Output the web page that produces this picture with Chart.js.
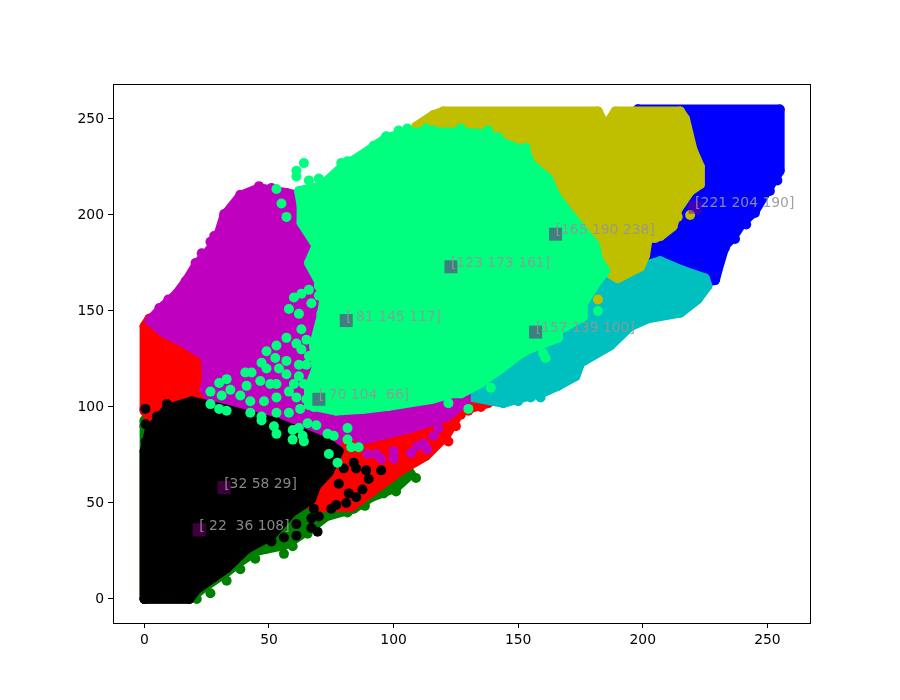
<!DOCTYPE html>
<html><head><meta charset="utf-8">
<style>html,body{margin:0;padding:0;background:#fff}canvas{display:block}</style>
<script src="https://cdn.jsdelivr.net/npm/chart.js@4"></script>
</head><body><canvas id="c" width="900" height="700"></canvas>
<script>
// Cluster outlines and loose points as [x, y]
const blueEdge=[[198,255],[255,255],[255,223],[251,215],[245,202],[240,196],[236,188],[233,184],[230,171],[229,166],[200,160],[185,190],[185,235]];
const blueDots=[[254,218],[251,212.5],[245,201],[241.5,195],[237,187.5],[233,183],[229,168]];
const greenEdge=[[0,0],[18,0],[21,3],[25,7],[33,14],[38,19],[45,25],[56,28],[60,31],[67,37],[73,43],[84,47],[91,53],[101,58],[107,65],[105,69],[63,77],[0,93]];
const greenDots=[[56,23.5],[0,99],[0,90],[21,0],[26.5,3],[33,9.5],[38.5,15.5],[44.5,21],[48.5,26],[59.5,27.5],[65.5,34],[81.5,45],[88.5,48.5],[96,55],[101,56],[109,63]];
const redEdge=[[2,146],[63,155],[135,129],[138,102],[127,98],[121,85],[113,74.5],[103,67],[83,48],[71,48],[22,60],[0,98],[0,142]];
const redDots=[[127,96],[135,100],[122,82],[125,90],[130,98]];
const cyanEdge=[[144,102],[155,106],[159,107],[166,111],[173,116],[175,123],[187,132],[195,142],[202,146],[215,149],[222,156],[226,163],[225,167],[216,171],[207,176],[199,173],[183,166],[143,140],[135,108],[132,105]];
const cyanDots=[[122,96],[155,105],[159,105],[150,103]];
const magentaEdge=[[2,145],[8,153],[13,159],[17,166],[21,174.5],[25,180],[28,185],[30,191],[32,199.5],[38.5,210],[46,214],[57,211.5],[71,207],[130,150],[129,103],[121.5,95],[105.5,88.5],[88,83],[78,88.5],[77,80],[42,100],[26,105],[24,109],[25,115],[24.5,126.5],[20,130],[15,134],[8,138.5]];
const magentaDots=[[6,151.5],[9.6,156],[16.5,165.5],[20.5,175],[23,180],[26.5,186],[28,189],[31,193],[32,200.5],[34.5,203],[38.5,210.5],[43,209],[46,215],[51,214],[89.5,75.5],[93,75.5],[95,73],[100,77],[100,73],[107,76],[109.5,79.5],[112,81],[113.5,78],[116,85],[118,89]];
const yellowEdge=[[116,252],[120,254],[182,254],[185,246],[189,254],[215,254],[217,250],[220,234],[223,225],[223,216],[219,212.5],[214,203],[212,194],[207,189],[202,187.5],[201,179],[199,173],[190,167],[185,171],[159,181],[103,207],[109,246]];
const yellowDots=[[219,200],[182,156],[161,134],[70.5,141],[214,199],[209,193],[205,188],[196,176],[194,170],[191,168]];
const blackEdge=[[0,0],[18,0],[21,5],[33,16],[41,26],[51,33],[59,45],[67,52],[69,59],[74,66],[78,77],[74,81],[53,92],[32,99],[19,103],[9,99],[5,93],[2,87.5],[0,77]];
const blackDots=[[0.4,99],[9,101.5],[5,95],[0.5,91],[0.5,82],[80,68],[85,68],[84,71],[89,67],[95,67],[90,62.5],[78,60],[82,55],[87.5,57],[85,53],[81,50],[77,49],[75,47],[68,47],[67,42],[70,43],[61,39],[67,37],[69.5,35],[61,33],[56,32],[51,30]];
const springEdge=[[97,240],[105.5,243],[113,243],[127,243],[138,242],[143,238],[153,233],[155,226.5],[162,219],[165,210],[170,201.5],[174,195],[181,184],[182,177],[185,171],[182,166],[179,160],[176,154],[176,147],[166,140],[166,136],[154,130],[150,127],[143,120],[135,112.5],[127,107],[123,107],[115,104],[98,100.5],[88,99],[77,98],[66,101],[66,110],[69,120],[68,132],[71,147],[72,155],[70,165.5],[66,175],[69,184],[63,196],[63,205],[62,212.5],[71,215],[79,224.5],[87,231]];
const springDots=[[53,213.5],[55,206],[57,199],[61,220],[66,218],[70,219],[60,157],[63,159],[67,154],[70,158],[70,163],[66,161],[58,151],[62,148.5],[71,148.5],[63,140.5],[57,136],[61,133],[53,132],[49,129],[52.5,125.5],[47,123],[49,120],[54,120],[57,124],[62,122],[66,126.5],[57,117],[40.5,118],[43,118],[33,114.5],[30,112.5],[26.5,108],[31,106],[34.5,109],[41,111],[38.5,106],[46.5,113.5],[50.5,112],[53,112],[60,112],[64,112],[42.5,103],[48,103],[53,105],[58,108],[26.5,101.5],[30,99],[33,98],[42.5,97],[47,95],[53,97],[58,97],[62.5,99],[47,93],[52,90],[53,86],[59.5,88],[62,89],[63.5,85],[64,82],[59.5,83],[65.5,91.5],[69,90.5],[73.5,86],[76,85],[81.5,83],[81.5,89],[83,79],[86,79],[74,75.5],[77.5,71],[182,150],[160,128],[161,125.5],[139,110],[130,99],[122,102],
 [105.5,245],[113,245],[116,244],[120,242],[127,245],[133,242],[138,244],[142,240.5],[153,235],[64,227],[61,223],[79,227],[81.5,228],[92,236],[97,241],[102,244],[63,130],[65,135],[65,122],[62,116],[67,110],[61,105],[65,104],[68,100]];

const centerX=[221,165,123,81,157,70,32,22];
const centerY=[204,190,173,145,139,104,58,36];
const centerLabels=['[221 204 190]','[165 190 238]','[123 173 161]','[ 81 145 117]','[157 139 100]','[ 70 104  66]','[32 58 29]','[ 22  36 108]'];
const tickValues=[0,50,100,150,200,250];

const clusters=[
 ['#0000ff',blueEdge,blueDots],['#008000',greenEdge,greenDots],['#ff0000',redEdge,redDots],
 ['#00bfbf',cyanEdge,cyanDots],['#bf00bf',magentaEdge,magentaDots],['#bfbf00',yellowEdge,yellowDots],
 ['#000000',blackEdge,blackDots],['#00ff7f',springEdge,springDots]];
const pts=a=>a.map(p=>({x:p[0],y:p[1]}));
const paintOrder=[];
clusters.forEach(([color,edge,dots])=>{
  paintOrder.push({data:pts(edge.concat([edge[0]])),showLine:true,fill:'shape',backgroundColor:color,borderColor:color,
    borderWidth:9.6,borderJoinStyle:'round',borderCapStyle:'round',pointRadius:4.8,pointBorderWidth:0,pointBackgroundColor:color});
  paintOrder.push({data:pts(dots),showLine:false,pointRadius:5,pointBorderWidth:0,pointBackgroundColor:color,backgroundColor:color,borderColor:color});
});
paintOrder.push({data:centerX.map((x,i)=>({x,y:centerY[i]})),showLine:false,pointStyle:'rect',pointRadius:9.2,pointBorderWidth:0,
  pointBackgroundColor:'rgba(128,0,128,0.5)',backgroundColor:'rgba(128,0,128,0.5)'});

const textPlugin={id:'centerText',afterDatasetsDraw(chart){
  const {ctx,scales:{x,y},chartArea:a}=chart;
  ctx.save();ctx.font='13.9px "DejaVu Sans"';ctx.textAlign='left';ctx.textBaseline='alphabetic';ctx.fillStyle='rgba(150,150,150,0.9)';
  centerLabels.forEach((t,i)=>ctx.fillText(t,x.getPixelForValue(centerX[i]),y.getPixelForValue(centerY[i])));
  ctx.restore();
  ctx.save();ctx.strokeStyle='#000';ctx.lineWidth=1;ctx.strokeRect(a.left+.5,a.top+.5,a.right-a.left,a.bottom-a.top);ctx.restore();
}};
const axis=(min,max)=>({type:'linear',min,max,
  grid:{drawOnChartArea:false,drawTicks:true,tickLength:5,tickColor:'#000'},border:{display:false},
  afterBuildTicks(s){s.ticks=tickValues.map(v=>({value:v}));},
  ticks:{color:'#000',font:{family:'"DejaVu Sans"',size:13.9},padding:4,autoSkip:false,maxRotation:0,includeBounds:false}});
const xAxis=axis(-12.6,267.1);xAxis.afterFit=s=>{s.height=77;};
const yAxis=axis(-12.5,268.2);yAxis.afterFit=s=>{s.width=113;};
new Chart(document.getElementById('c'),{type:'scatter',
  data:{datasets:paintOrder.reverse()},
  plugins:[textPlugin],
  options:{responsive:false,animation:false,devicePixelRatio:1,layout:{padding:{top:84,right:90,left:0,bottom:0}},
    plugins:{legend:{display:false},tooltip:{enabled:false},title:{display:false}},
    scales:{x:xAxis,y:yAxis}}});
</script></body></html>
